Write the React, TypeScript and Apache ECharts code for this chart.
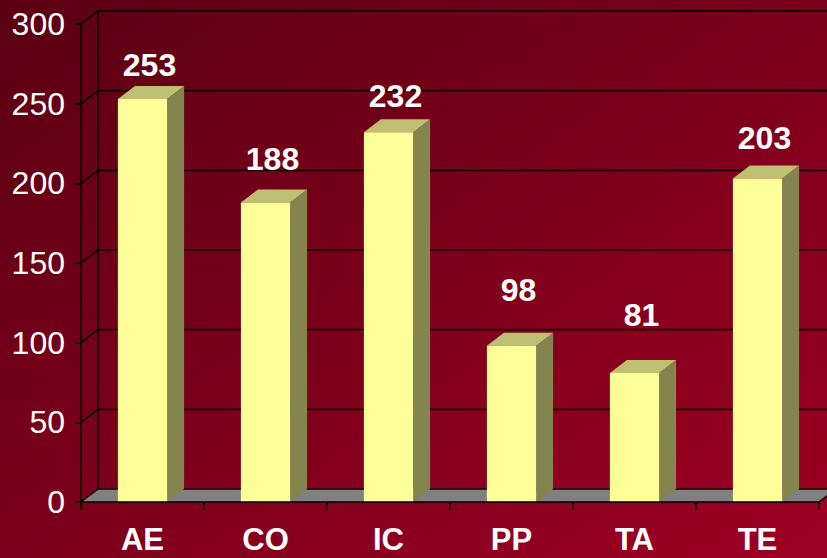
import React, { useEffect, useRef } from "react";
import * as echarts from "echarts";

const categories = ["AE", "CO", "IC", "PP", "TA", "TE"];
const values = [253, 188, 232, 98, 81, 203];
const yTicks = [0, 50, 100, 150, 200, 250, 300];

const DX = 17;
const DY = -13;

export default function App() {
  const ref = useRef<HTMLDivElement>(null);
  useEffect(() => {
    if (!ref.current) return;
    const chart = echarts.init(ref.current, null, { renderer: "svg" });
    const font = "'Liberation Sans', Arial, sans-serif";
    chart.setOption({
      animation: false,
      backgroundColor: {
        type: "linear",
        x: 0,
        y: 0,
        x2: 1,
        y2: 1,
        colorStops: [
          { offset: 0, color: "#5a0012" },
          { offset: 1, color: "#9e0024" },
        ],
      },
      grid: { left: 81, right: 8, top: 24, bottom: 56 },
      xAxis: {
        type: "category",
        data: categories,
        axisLine: { show: true, lineStyle: { color: "#000", width: 1.5 } },
        axisTick: { show: true, length: 8, lineStyle: { color: "#000", width: 1.5 } },
        axisLabel: {
          color: "#fff",
          fontFamily: font,
          fontWeight: "bold",
          fontSize: 31,
          margin: 22,
        },
        z: 5,
      },
      yAxis: {
        type: "value",
        min: 0,
        max: 300,
        interval: 50,
        axisLine: { show: true, lineStyle: { color: "#000", width: 1.5 } },
        axisTick: { show: true, length: 6, lineStyle: { color: "#000", width: 1.5 } },
        splitLine: { show: false },
        axisLabel: {
          color: "#fff",
          fontFamily: font,
          fontSize: 32,
          margin: 16,
        },
        z: 5,
      },
      series: [
        {
          type: "custom",
          z: 1,
          silent: true,
          data: [[0, 0]],
          renderItem: (params: any, api: any) => {
            const cs = params.coordSys;
            const left = cs.x;
            const right = cs.x + cs.width;
            const y0 = api.coord([0, 0])[1];
            const children: any[] = [];
            children.push({
              type: "polygon",
              shape: {
                points: [
                  [left, y0],
                  [right, y0],
                  [right + DX, y0 + DY],
                  [left + DX, y0 + DY],
                ],
              },
              style: { fill: "#808080" },
            });
            children.push({
              type: "line",
              shape: { x1: right, y1: y0, x2: right + DX, y2: y0 + DY },
              style: { stroke: "#000", lineWidth: 1.5 },
            });
            yTicks.forEach((t) => {
              const y = api.coord([0, t])[1];
              children.push({
                type: "line",
                shape: { x1: left + DX, y1: y + DY, x2: right + DX, y2: y + DY },
                style: { stroke: "#120000", lineWidth: t === 300 ? 2 : 1.7 },
              });
              children.push({
                type: "line",
                shape: { x1: left, y1: y, x2: left + DX, y2: y + DY },
                style: { stroke: "#000", lineWidth: 1.5 },
              });
            });
            const yTop = api.coord([0, 300])[1];
            children.push({
              type: "line",
              shape: { x1: left + DX, y1: yTop + DY, x2: left + DX, y2: y0 + DY },
              style: { stroke: "#000", lineWidth: 1.5 },
            });
            return { type: "group", children };
          },
        },
        {
          type: "custom",
          z: 3,
          data: values.map((v, i) => [i, v]),
          renderItem: (params: any, api: any) => {
            const i = api.value(0);
            const v = api.value(1);
            const top = api.coord([i, v]);
            const base = api.coord([i, 0]);
            const bw = api.size([1, 0])[0] * 0.4;
            const cx = top[0];
            const xl = cx - bw / 2;
            const xr = cx + bw / 2;
            const yt = top[1];
            const yb = base[1];
            // label placement follows the original's 3D projection
            const labelY = yb - (yb - yt) * 0.911 - 69.7;
            return {
              type: "group",
              children: [
                {
                  type: "polygon",
                  shape: {
                    points: [
                      [xr, yt],
                      [xr + DX, yt + DY],
                      [xr + DX, yb + DY],
                      [xr, yb],
                    ],
                  },
                  style: { fill: "#84844f" },
                },
                {
                  type: "polygon",
                  shape: {
                    points: [
                      [xl, yt],
                      [xl + DX, yt + DY],
                      [xr + DX, yt + DY],
                      [xr, yt],
                    ],
                  },
                  style: { fill: "#c0c072" },
                },
                {
                  type: "rect",
                  shape: { x: xl, y: yt, width: bw, height: yb - yt },
                  style: { fill: "#ffff99" },
                },
                {
                  type: "text",
                  x: cx + 7,
                  y: labelY,
                  style: {
                    text: String(values[i]),
                    fill: "#fff",
                    font: `bold 32px ${font}`,
                    align: "center",
                    verticalAlign: "middle",
                  },
                },
              ],
            };
          },
        },
      ],
    });
    return () => chart.dispose();
  }, []);
  return (
    <div
      ref={ref}
      style={{ position: "absolute", left: 0, top: 0, width: 827, height: 558 }}
    />
  );
}
